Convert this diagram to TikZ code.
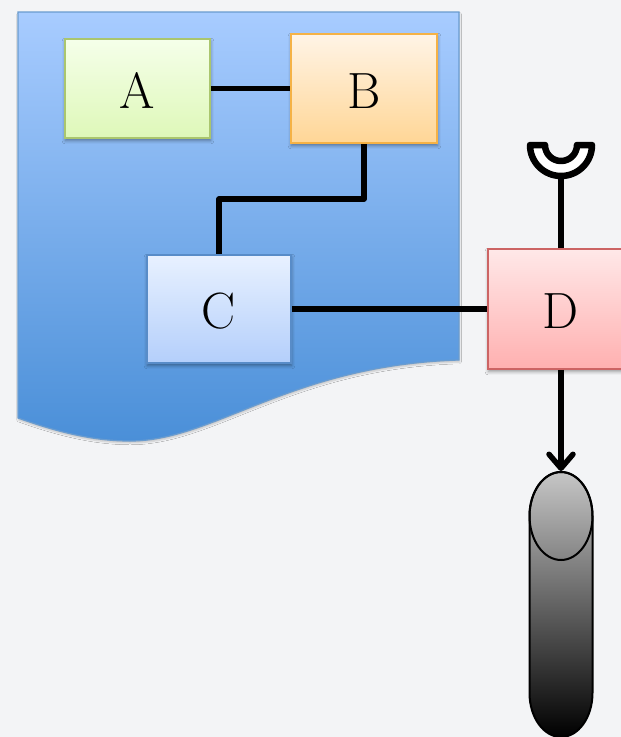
\documentclass[tikz,border=0pt]{standalone}
\usepackage{tikz}
\usetikzlibrary{arrows.meta, positioning, shadows.blur, shapes.geometric}

\definecolor{paper}{HTML}{F3F4F6}
\definecolor{sheettop}{HTML}{A8CCFF}
\definecolor{sheetbot}{HTML}{4A8FD8}
\definecolor{sheetline}{HTML}{6A9CCF}

\begin{document}
\begin{tikzpicture}[
  x=0.02cm, y=-0.02cm,
  softshadow/.style = {blur shadow={shadow blur steps=6, shadow blur radius=0.7mm, shadow xshift=0.1mm, shadow yshift=-0.5mm, shadow opacity=40}},
  block/.style = {draw, line width=0.035cm, rectangle, softshadow, minimum height=2cm, text height=22.4pt, text depth=0pt, font=\fontsize{29}{34}\selectfont},
  wire/.style = {line width=0.11cm, line join=round},
  sheet/.style = {draw=sheetline, line width=0.025cm, top color=sheettop, bottom color=sheetbot, blur shadow={shadow blur steps=4, shadow blur radius=0.35mm, shadow xshift=0.1mm, shadow yshift=-0.4mm, shadow opacity=20}},
  boxA/.style = {block, draw={rgb,255:red,170;green,198;blue,110}, top color={rgb,255:red,245;green,255;blue,234}, bottom color={rgb,255:red,222;green,248;blue,184}, minimum width=2.9cm, minimum height=1.98cm},
  boxB/.style = {block, draw={rgb,255:red,245;green,178;blue,70}, top color={rgb,255:red,255;green,244;blue,230}, bottom color={rgb,255:red,255;green,214;blue,150}, minimum width=2.92cm, minimum height=2.18cm},
  boxC/.style = {block, draw={rgb,255:red,88;green,140;blue,200}, top color={rgb,255:red,232;green,241;blue,255}, bottom color={rgb,255:red,180;green,207;blue,251}, minimum width=2.88cm, minimum height=2.16cm},
  boxD/.style = {block, draw={rgb,255:red,204;green,100;blue,100}, top color={rgb,255:red,255;green,232;blue,232}, bottom color={rgb,255:red,255;green,176;blue,176}, minimum width=2.92cm, minimum height=2.4cm}
]

% Page
\useasboundingbox (0,0) rectangle (621,737);
\clip (0,0) rectangle (621,737);
\fill[paper] (0,0) rectangle (621,737);

% Blue sheet
\path[sheet] (18,12) -- (459,12) -- (459,360)
  .. controls (290,365) and (215,441) .. (130,441)
  .. controls (95,441) and (60,433) .. (18,418) -- cycle;

% Blocks
\node[boxA] (A) at (137.5,88.5) {A};
\node[boxB] (B) at (364,88.5) {B};
\node[boxC] (C) at (219,309) {C};
\node[boxD] (D) at (561,309) {D};

% Tank
\path[top color={rgb,255:red,198;green,198;blue,198}, bottom color=black, draw=black, line width=0.04cm]
  (529.5,516) arc[start angle=180, end angle=360, x radius=31.5, y radius=44]
  -- (592.5,693) arc[start angle=0, end angle=180, x radius=31.5, y radius=44] -- cycle;
\node[draw, ellipse, line width=0.04cm, inner sep=0pt, minimum width=1.26cm, minimum height=1.76cm] (tanktop) at (561,516) {};

% Socket
\coordinate (socket) at (561,175);
\draw[wire, line width=0.13cm, fill=white] (530,145) arc[start angle=180, end angle=0, radius=31]
  -- ++(-15,0) arc[start angle=0, end angle=180, radius=16] -- cycle;

% Wires
\coordinate (bend) at (364,199);
\draw[wire] (A) -- (B);
\draw[wire] (B.south) |- (bend) -| (C.north);
\draw[wire] (C) -- (D);
\draw[wire] (D.north) -- (socket);
\draw[wire, -{Straight Barb[length=0.28cm, width=0.48cm, round]}] (D.south) -- (tanktop.north);

\end{tikzpicture}
\end{document}
